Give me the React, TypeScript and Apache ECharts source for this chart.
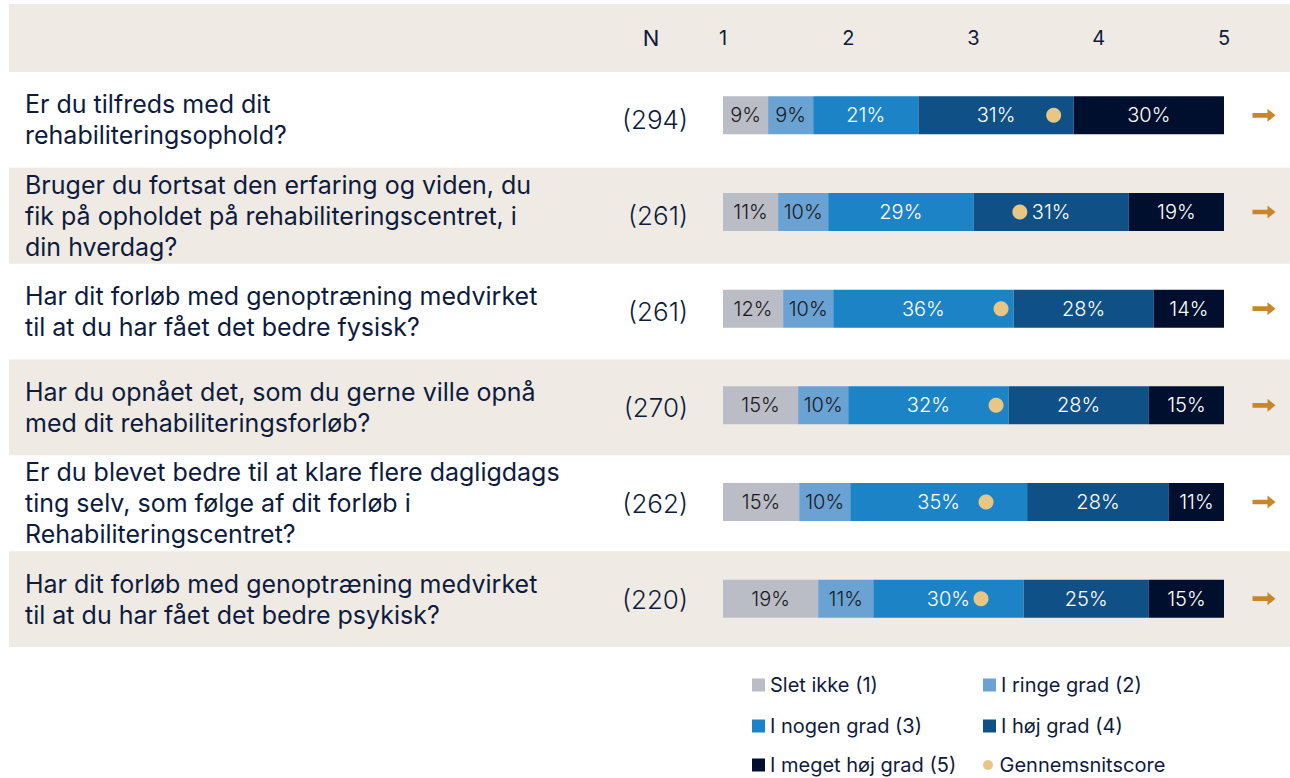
import React, { useEffect, useRef } from "react";
import * as echarts from "echarts";

const questions = [
  "Er du tilfreds med dit\nrehabiliteringsophold?",
  "Bruger du fortsat den erfaring og viden, du\nfik på opholdet på rehabiliteringscentret, i\ndin hverdag?",
  "Har dit forløb med genoptræning medvirket\ntil at du har fået det bedre fysisk?",
  "Har du opnået det, som du gerne ville opnå\nmed dit rehabiliteringsforløb?",
  "Er du blevet bedre til at klare flere dagligdags\nting selv, som følge af dit forløb i\nRehabiliteringscentret?",
  "Har dit forløb med genoptræning medvirket\ntil at du har fået det bedre psykisk?",
];
const nValues = [294, 261, 261, 270, 262, 220];
const scaleTicks = [1, 2, 3, 4, 5];

const sletIkke = [9, 11, 12, 15, 15.2, 19];
const iRingeGrad = [9, 10, 10, 10, 10.2, 11];
const iNogenGrad = [21, 29, 36, 32, 35.3, 30];
const iHoejGrad = [31, 31, 28, 28, 28.3, 25];
const iMegetHoejGrad = [30, 19, 14, 15, 11, 15];
const averages = [3.64, 3.37, 3.22, 3.18, 3.1, 3.06];

const seriesNames = [
  "Slet ikke (1)",
  "I ringe grad (2)",
  "I nogen grad (3)",
  "I høj grad (4)",
  "I meget høj grad (5)",
];
const seriesData = [sletIkke, iRingeGrad, iNogenGrad, iHoejGrad, iMegetHoejGrad];
const colors = ["#babcc6", "#6aa2d4", "#1c84c6", "#0f5087", "#000f2e"];
const labelColors = ["#1a1a1a", "#1a1a1a", "#ffffff", "#ffffff", "#ffffff"];
const avgName = "Gennemsnitscore";
const avgColor = "#e8c785";

const TEXT = "#0e1b3d";
const BEIGE = "#efebe4";
const FONT = "Inter, 'Noto Sans', sans-serif";

export default function App() {
  const ref = useRef<HTMLDivElement>(null);
  useEffect(() => {
    document.body.style.margin = "0";
    const chart = echarts.init(ref.current!, null, { renderer: "svg" });
    const rowTop = 72;
    const rowsHeight = 575;
    const rowH = rowsHeight / questions.length;
    const bgRects: any[] = [
      { type: "rect", z: -1, shape: { x: 9, y: 4, width: 1281, height: rowTop - 4 }, style: { fill: BEIGE } },
    ];
    questions.forEach((_, i) => {
      if (i % 2 === 1) {
        bgRects.push({
          type: "rect",
          z: -1,
          shape: { x: 9, y: rowTop + rowH * i, width: 1281, height: rowH },
          style: { fill: BEIGE },
        });
      }
    });
    bgRects.push({
      type: "text",
      x: 651,
      y: 38,
      style: { text: "N", fill: TEXT, font: `22px ${FONT}`, align: "center", verticalAlign: "middle" },
    });

    const barSeries = seriesNames.map((name, k) => ({
      name,
      type: "bar",
      stack: "total",
      xAxisIndex: 1,
      yAxisIndex: 2,
      barWidth: 38,
      data: seriesData[k],
      itemStyle: { color: colors[k] },
      label: {
        show: true,
        position: "inside",
        color: labelColors[k],
        fontFamily: FONT,
        fontWeight: 300,
        fontSize: 20,
        formatter: (p: any) => `${Math.round(p.value)}%`,
      },
    }));

    const legendPos = [
      [752, 675],
      [983, 675],
      [752, 716],
      [983, 716],
      [752, 755],
      [983, 755],
    ];
    const legendItems: any[] = [
      { name: seriesNames[0], icon: "rect" },
      { name: seriesNames[1], icon: "rect" },
      { name: seriesNames[2], icon: "rect" },
      { name: seriesNames[3], icon: "rect" },
      { name: seriesNames[4], icon: "rect" },
      { name: avgName, icon: "circle", itemStyle: { color: avgColor } },
    ];
    const legends = legendItems.map((item, i) => ({
      left: legendPos[i][0],
      top: legendPos[i][1],
      padding: 0,
      itemWidth: 13,
      itemHeight: item.icon === "circle" ? 10 : 13,
      selectedMode: false,
      textStyle: { color: TEXT, fontFamily: FONT, fontSize: 20, lineHeight: 20 },
      data: [item],
    }));

    chart.setOption({
      animation: false,
      graphic: bgRects,
      grid: [
        { left: 723, right: 66, top: rowTop, height: rowsHeight },
        { left: 723, right: 66, top: 67, height: 580 },
      ],
      xAxis: [
        { type: "value", gridIndex: 0, min: 0, max: 1, show: false },
        { type: "value", gridIndex: 1, min: 0, max: 100, show: false },
        {
          type: "value",
          gridIndex: 1,
          min: 1,
          max: 5,
          interval: 1,
          position: "top",
          axisLine: { show: false },
          axisTick: { show: false },
          splitLine: { show: false },
          axisLabel: {
            show: true,
            margin: 29,
            color: TEXT,
            fontFamily: FONT,
            fontSize: 20,
            verticalAlign: "middle",
            formatter: (v: number) => (scaleTicks.includes(v) ? String(v) : ""),
          },
        },
      ],
      yAxis: [
        {
          type: "category",
          gridIndex: 0,
          inverse: true,
          data: questions,
          axisLine: { show: false },
          axisTick: { show: false },
          axisLabel: {
            margin: 698,
            align: "left",
            color: TEXT,
            fontFamily: FONT,
            fontSize: 25,
            lineHeight: 31,
          },
        },
        {
          type: "category",
          gridIndex: 0,
          inverse: true,
          position: "left",
          data: questions,
          axisLine: { show: false },
          axisTick: { show: false },
          axisLabel: {
            margin: 35,
            align: "right",
            color: TEXT,
            fontFamily: FONT,
            fontWeight: 300,
            fontSize: 26,
            formatter: (_: string, idx: number) => `(${nValues[idx]})`,
          },
        },
        {
          type: "category",
          gridIndex: 1,
          inverse: true,
          data: questions,
          show: false,
        },
      ],
      legend: legends,
      series: [
        ...barSeries,
        {
          name: avgName,
          type: "scatter",
          xAxisIndex: 2,
          yAxisIndex: 2,
          symbolSize: 15,
          z: 5,
          itemStyle: { color: avgColor, opacity: 1 },
          data: averages.map((v, i) => [v, i]),
        },
        {
          name: "trend",
          type: "scatter",
          xAxisIndex: 2,
          yAxisIndex: 2,
          clip: false,
          symbol: "path://M0,4.2 L15,4.2 L15,0 L23,6.5 L15,13 L15,8.8 L0,8.8 Z",
          symbolSize: [23, 13],
          symbolOffset: [40, 0],
          itemStyle: { color: "#c8862a", opacity: 1 },
          data: averages.map((_, i) => [5, i]),
        },
      ],
    });
    return () => chart.dispose();
  }, []);
  return <div ref={ref} style={{ width: 1290, height: 778 }} />;
}
